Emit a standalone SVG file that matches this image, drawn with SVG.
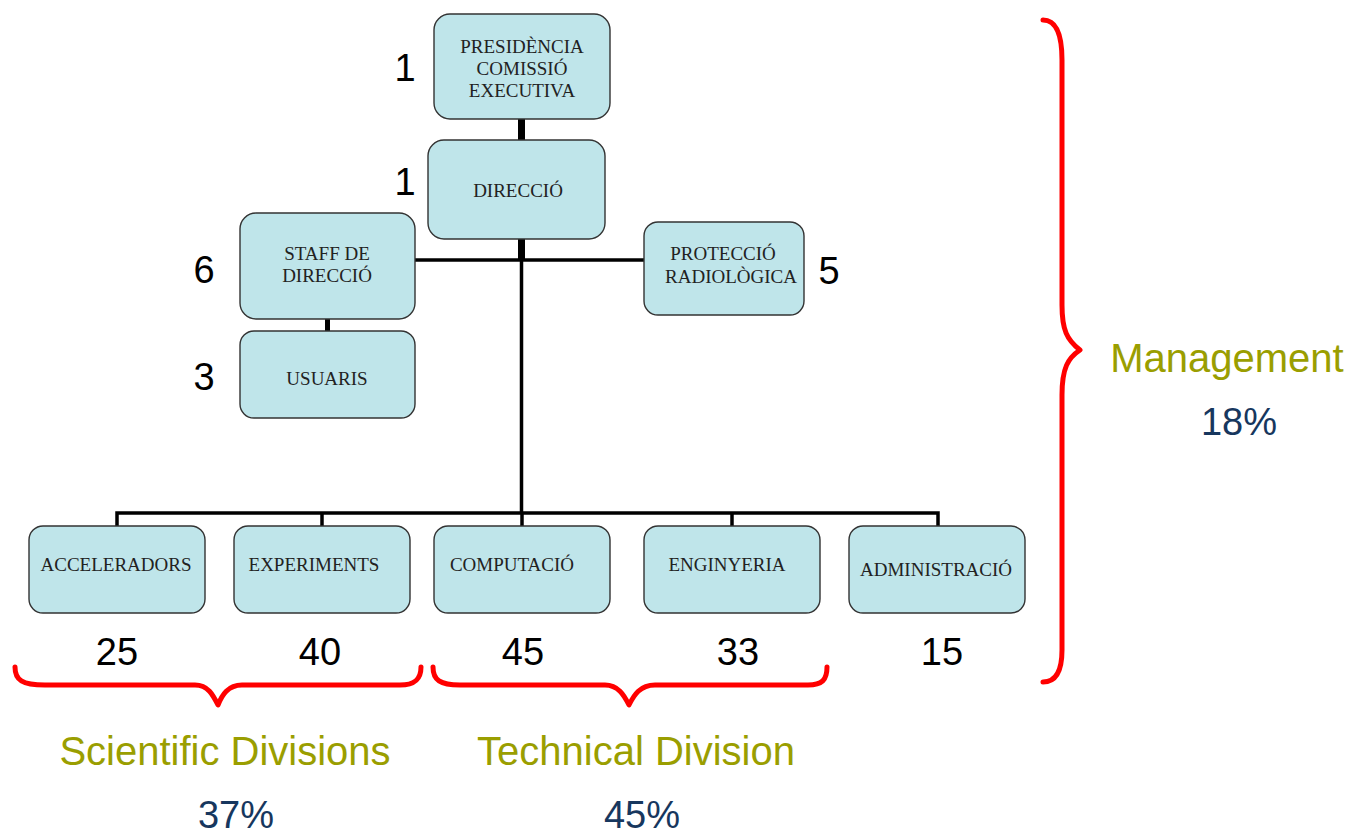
<svg xmlns="http://www.w3.org/2000/svg" width="1351" height="834" viewBox="0 0 1351 834">
<style>
.box{fill:#BFE5EA;stroke:#333;stroke-width:1.4}
.bt{font-family:"Liberation Serif","Times New Roman",serif;font-size:19px;fill:#222;text-anchor:middle}
.num{font-family:"Liberation Sans",Arial,sans-serif;font-size:38px;fill:#000;text-anchor:middle}
.lab{font-family:"Liberation Sans",Arial,sans-serif;font-size:40px;fill:#9A9E00;text-anchor:middle}
.pct{font-family:"Liberation Sans",Arial,sans-serif;font-size:38px;fill:#17375E;text-anchor:middle}
.ln{stroke:#000;stroke-width:3.5;fill:none}
.brace{stroke:#FF0000;stroke-width:5;fill:none;stroke-linecap:round;stroke-linejoin:round}
</style>
<rect width="1351" height="834" fill="#fff"/>
<g id="connectors">
<rect x="518" y="118" width="7" height="22" fill="#000"/>
<rect x="518" y="239" width="7" height="20" fill="#000"/>
<line class="ln" x1="415" y1="260" x2="644" y2="260"/>
<line class="ln" x1="521.5" y1="258" x2="521.5" y2="513"/>
<rect x="325" y="319" width="5" height="12" fill="#000"/>
<path class="ln" d="M117,526 V513 H938 V526"/>
<line class="ln" x1="322" y1="513" x2="322" y2="526"/>
<line class="ln" x1="522" y1="513" x2="522" y2="526"/>
<line class="ln" x1="732" y1="513" x2="732" y2="526"/>
</g>
<g id="presidencia"><rect class="box" x="434" y="14" width="176" height="105" rx="16"/>
<text class="bt" x="522" y="53">PRESIDÈNCIA</text><text class="bt" x="522" y="75">COMISSIÓ</text><text class="bt" x="522" y="97">EXECUTIVA</text></g>
<g id="direccio"><rect class="box" x="428" y="140" width="177" height="99" rx="16"/>
<text class="bt" x="518" y="197">DIRECCIÓ</text></g>
<g id="staff"><rect class="box" x="240" y="213" width="175" height="106" rx="16"/>
<text class="bt" x="327" y="260">STAFF DE</text><text class="bt" x="327" y="282">DIRECCIÓ</text></g>
<g id="usuaris"><rect class="box" x="240" y="331" width="175" height="87" rx="14"/>
<text class="bt" x="327" y="385">USUARIS</text></g>
<g id="proteccio"><rect class="box" x="644" y="222" width="160" height="93" rx="14"/>
<text class="bt" x="723" y="260">PROTECCIÓ</text><text class="bt" x="731" y="283">RADIOLÒGICA</text></g>
<g id="acceleradors"><rect class="box" x="29" y="526" width="176" height="87" rx="14"/>
<text class="bt" x="116" y="571">ACCELERADORS</text></g>
<g id="experiments"><rect class="box" x="234" y="526" width="176" height="87" rx="14"/>
<text class="bt" x="314" y="571">EXPERIMENTS</text></g>
<g id="computacio"><rect class="box" x="434" y="526" width="176" height="87" rx="14"/>
<text class="bt" x="512" y="571">COMPUTACIÓ</text></g>
<g id="enginyeria"><rect class="box" x="644" y="526" width="176" height="87" rx="14"/>
<text class="bt" x="727" y="571">ENGINYERIA</text></g>
<g id="administracio"><rect class="box" x="849" y="526" width="176" height="87" rx="14"/>
<text class="bt" x="936" y="576">ADMINISTRACIÓ</text></g>
<g id="numbers">
<text class="num" x="405" y="81">1</text>
<text class="num" x="405" y="195">1</text>
<text class="num" x="204" y="283">6</text>
<text class="num" x="204" y="390">3</text>
<text class="num" x="829" y="284">5</text>
<text class="num" x="117" y="665">25</text>
<text class="num" x="320" y="665">40</text>
<text class="num" x="523" y="665">45</text>
<text class="num" x="738" y="665">33</text>
<text class="num" x="942" y="665">15</text>
</g>
<g id="braces">
<path class="brace" d="M1043,20 C1055,20 1062,32 1062,60 L1062,305 C1062,330 1067,340 1080,350 C1068,358 1062,368 1062,395 L1062,650 C1062,672 1055,682 1043,682"/>
<path class="brace" d="M15,667 C15,680 22,685 45,685 L195,685 C208,685 213,695 218,705 C222,695 228,685 242,685 L400,685 C414,685 421,680 421,667"/>
<path class="brace" d="M433,667 C433,680 440,685 460,685 L605,685 C618,685 624,695 629,705 C634,695 640,685 655,685 L808,685 C822,685 827,680 827,667"/>
</g>
<g id="labels">
<text class="lab" x="1227" y="372">Management</text>
<text class="pct" x="1239" y="435">18%</text>
<text class="lab" x="225" y="765">Scientific Divisions</text>
<text class="pct" x="236" y="828">37%</text>
<text class="lab" x="636" y="765">Technical Division</text>
<text class="pct" x="642" y="828">45%</text>
</g>
</svg>
